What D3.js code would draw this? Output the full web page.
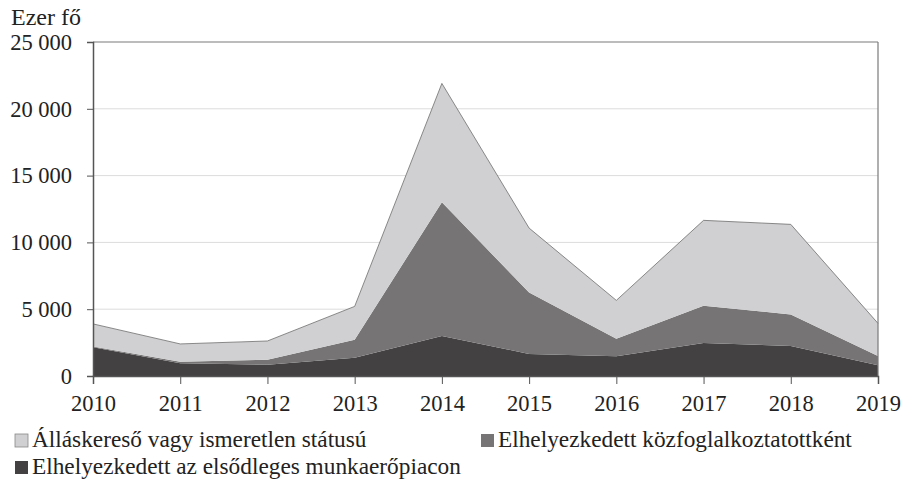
<!DOCTYPE html>
<html>
<head>
<meta charset="utf-8">
<script src="https://cdn.jsdelivr.net/npm/d3@7"></script>
<style>
  body { margin: 0; background: #fff; }
</style>
</head>
<body>
<svg id="chart" width="901" height="486"></svg>
<script>
// years on the x axis
var years = [2010, 2011, 2012, 2013, 2014, 2015, 2016, 2017, 2018, 2019];
// elsődleges munkaerőpiac (bottom layer)
var primary = [2150, 950, 850, 1370, 3000, 1650, 1470, 2470, 2250, 800];
// közfoglalkoztatott (middle layer)
var publicWork = [50, 120, 370, 1350, 10000, 4600, 1320, 2790, 2360, 700];
// álláskereső / ismeretlen (top layer)
var jobSeeker = [1700, 1330, 1400, 2490, 8900, 4820, 2870, 6390, 6740, 2440];
var yTicks = [0, 5000, 10000, 15000, 20000, 25000];

var seriesNames = ["Elhelyezkedett az elsődleges munkaerőpiacon", "Elhelyezkedett közfoglalkoztatottként", "Álláskereső vagy ismeretlen státusú"];
var colors = ["#434142", "#767474", "#d0d0d2"];

var svg = d3.select("#chart");
var plotL = 93, plotR = 878, plotT = 42, plotB = 376;
var serif = "'Liberation Serif', 'Times New Roman', serif";

var x = d3.scaleLinear().domain([2010, 2019]).range([plotL, plotR]);
var y = d3.scaleLinear().domain([0, 25000]).range([plotB, plotT]);

var rows = years.map(function(yr, i){
  return { year: yr, a: primary[i], b: publicWork[i], c: jobSeeker[i] };
});
var stack = d3.stack().keys(["a", "b", "c"]);
var layers = stack(rows);

// gridlines
svg.append("g").selectAll("line")
  .data(yTicks.slice(1, -1))
  .enter().append("line")
  .attr("x1", plotL).attr("x2", plotR)
  .attr("y1", function(d){ return y(d); }).attr("y2", function(d){ return y(d); })
  .attr("stroke", "#dcdcdc").attr("stroke-width", 1);

var area = d3.area()
  .x(function(d){ return x(d.data.year); })
  .y0(function(d){ return y(d[0]); })
  .y1(function(d){ return y(d[1]); });

svg.append("g").selectAll("path")
  .data(layers)
  .enter().append("path")
  .attr("d", area)
  .attr("fill", function(d, i){ return colors[i]; });

// thin outline on top of the stack
var topLine = d3.line()
  .x(function(d){ return x(d.data.year); })
  .y(function(d){ return y(d[1]); });
svg.append("path")
  .datum(layers[2])
  .attr("d", topLine)
  .attr("fill", "none")
  .attr("stroke", "#6e6e6e")
  .attr("stroke-width", 0.8);

// frame top + right
svg.append("line").attr("x1", plotL).attr("x2", plotR).attr("y1", plotT).attr("y2", plotT)
  .attr("stroke", "#7a7a7a").attr("stroke-width", 1.2);
svg.append("line").attr("x1", plotR).attr("x2", plotR).attr("y1", plotT).attr("y2", plotB)
  .attr("stroke", "#7a7a7a").attr("stroke-width", 1.2);

// axes
var fmt = function(d){ return d === 0 ? "0" : d3.format(",")(d).replace(",", " "); };
var yAxis = svg.append("g")
  .attr("transform", "translate(" + plotL + ",0)")
  .call(d3.axisLeft(y).tickValues(yTicks).tickSize(6).tickPadding(15).tickFormat(fmt));
var xAxis = svg.append("g")
  .attr("transform", "translate(0," + plotB + ")")
  .call(d3.axisBottom(x).tickValues(years).tickSize(8).tickPadding(11).tickFormat(d3.format("d")));

[yAxis, xAxis].forEach(function(ax){
  ax.attr("font-family", serif).attr("font-size", 22.5);
  ax.select(".domain").attr("stroke", "#555").attr("stroke-width", 1.5);
  ax.selectAll(".tick line").attr("stroke", "#555");
  ax.selectAll(".tick text").attr("fill", "#222");
});

svg.append("text")
  .attr("x", 11).attr("y", 25)
  .attr("font-family", serif)
  .attr("font-size", 24)
  .attr("fill", "#222")
  .text("Ezer fő");

// legend
var legendItems = [
  { name: seriesNames[2], color: colors[2], lx: 15, ly: 447 },
  { name: seriesNames[1], color: colors[1], lx: 481, ly: 447 },
  { name: seriesNames[0], color: colors[0], lx: 15, ly: 474 }
];
var lg = svg.append("g").selectAll("g")
  .data(legendItems)
  .enter().append("g")
  .attr("transform", function(d){ return "translate(" + d.lx + "," + d.ly + ")"; });
lg.append("rect")
  .attr("x", 0).attr("y", -13).attr("width", 13).attr("height", 13)
  .attr("fill", function(d){ return d.color; })
  .attr("stroke", function(d, i){ return i === 0 ? "#888" : "none"; })
  .attr("stroke-width", 0.8);
lg.append("text")
  .attr("x", 17).attr("y", 0)
  .attr("font-family", serif)
  .attr("font-size", 23.3)
  .attr("fill", "#222")
  .text(function(d){ return d.name; });
</script>
</body>
</html>
